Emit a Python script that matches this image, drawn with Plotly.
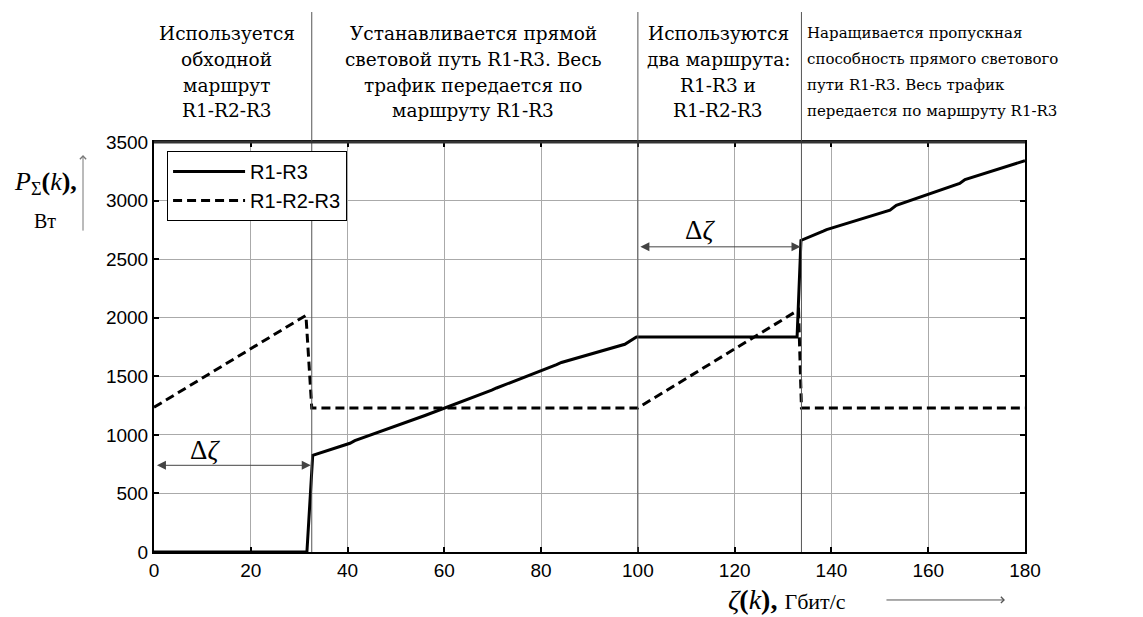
import plotly.graph_objects as go

# ---- data ----
direct_x = [0, 31.6, 32.8, 40.5, 41.5, 55, 56, 69.8, 70.8, 83.2, 84.2, 97.3, 99.7,
            132.9, 133.7, 138.3, 139, 152.1, 153.4, 166.5, 167.6, 180]
direct_y = [0, 0, 826, 928, 950, 1150, 1165, 1381, 1400, 1600, 1618, 1773, 1836,
            1836, 2660, 2739, 2752, 2918, 2960, 3146, 3180, 3340]
bypass_x = [0, 31.4, 32.6, 100, 133.2, 133.8, 180]
bypass_y = [1235, 2020, 1230, 1230, 2066, 1230, 1230]
series_names = ["R1-R3", "R1-R2-R3"]
x_ticks = [0, 20, 40, 60, 80, 100, 120, 140, 160, 180]
y_ticks = [0, 500, 1000, 1500, 2000, 2500, 3000, 3500]
phase_bounds = [0, 32.6, 100, 133.8, 180]
phase_lines = [
    ["Используется", "обходной", "маршрут", "R1-R2-R3"],
    ["Устанавливается прямой", "световой путь R1-R3. Весь", "трафик передается по", "маршруту R1-R3"],
    ["Используются", "два маршрута:", "R1-R3 и", "R1-R2-R3"],
    ["Наращивается пропускная", "способность прямого светового", "пути R1-R3. Весь трафик",
     "передается по маршруту R1-R3"],
]

SERIF = "Liberation Serif, Times New Roman, serif"
BLOCK_SERIF = "DejaVu Serif"
SANS = "Liberation Sans, Arial"

fig = go.Figure()
fig.add_trace(go.Scatter(x=direct_x, y=direct_y, mode="lines", name=series_names[0],
                         line=dict(color="black", width=3)))
fig.add_trace(go.Scatter(x=bypass_x, y=bypass_y, mode="lines", name=series_names[1],
                         line=dict(color="black", width=3, dash="9px,5px")))

shapes = []
for xb in phase_bounds[1:4]:
    shapes.append(dict(type="line", xref="x", yref="paper", x0=xb, x1=xb, y0=0, y1=1.317,
                       line=dict(color="#555555", width=1)))
# thick top border
shapes.append(dict(type="line", xref="paper", yref="paper", x0=0, x1=1, y0=1, y1=1,
                   line=dict(color="#333333", width=3)))

ann = []
# phase texts, one annotation per line (page y centres 33, 59, 85, 111 px)
line_y = [(552 - py) / 410 for py in (33, 59, 85, 111)]
block_x = [15.0, 66.0, 116.6, 134.5]
block_size = [18.5, 18.5, 18.5, 15]
for bi, lines in enumerate(phase_lines):
    for li, txt in enumerate(lines):
        ann.append(dict(text=txt, x=block_x[bi], y=line_y[li], xref="x", yref="paper",
                        showarrow=False,
                        xanchor="left" if bi == 3 else "center", yanchor="middle",
                        font=dict(family=BLOCK_SERIF, size=block_size[bi], color="black")))

# phase arrows
arrow_spans = [(0.1, 32.3), (32.9, 99.6), (100.4, 133.5), (134.2, 178)]
for a, b in arrow_spans:
    ann.append(dict(x=b, y=3626, ax=a, ay=3626, xref="x", yref="y", axref="x", ayref="y",
                    text="", showarrow=True, arrowhead=2, arrowside="end+start",
                    arrowsize=1.8, arrowwidth=1, arrowcolor="#444444"))

# delta zeta arrows and labels
for (a, b, yy) in [(0.3, 32.4, 740), (100.2, 133.6, 2605)]:
    ann.append(dict(x=b, y=yy, ax=a, ay=yy, xref="x", yref="y", axref="x", ayref="y",
                    text="", showarrow=True, arrowhead=2, arrowside="end+start",
                    arrowsize=1.8, arrowwidth=1, arrowcolor="#444444"))
for (xx, yy) in [(10.5, 868), (112.8, 2746)]:
    ann.append(dict(text="Δ<i>ζ</i>", x=xx, y=yy, xref="x", yref="y", showarrow=False,
                    xanchor="center", yanchor="middle",
                    font=dict(family=SERIF, size=27, color="black")))

# axis titles
ann.append(dict(text="<i>P</i><sub>Σ</sub><b>(</b><i>k</i><b>),</b>", x=-0.125, y=0.9,
                xref="paper", yref="paper", showarrow=False, xanchor="center", yanchor="middle",
                font=dict(family=SERIF, size=26, color="black")))
ann.append(dict(text="Вт", x=-0.125, y=0.807, xref="paper", yref="paper", showarrow=False,
                xanchor="center", yanchor="middle",
                font=dict(family=SERIF, size=20, color="black")))
ann.append(dict(x=-0.0815, y=0.968, ax=0, ay=77, xref="paper", yref="paper",
                text="", showarrow=True, arrowhead=4, arrowsize=1.2, arrowwidth=1,
                arrowcolor="#777777"))
ann.append(dict(text="<i>ζ</i><b>(</b><i>k</i><b>),</b> <span style='font-size:22px'>Гбит/с</span>",
                x=0.727, y=-0.117, xref="paper", yref="paper", showarrow=False,
                xanchor="center", yanchor="middle",
                font=dict(family=SERIF, size=28, color="black")))
ann.append(dict(x=0.977, y=-0.117, ax=-120, ay=0, xref="paper", yref="paper",
                text="", showarrow=True, arrowhead=4, arrowsize=1.2, arrowwidth=1,
                arrowcolor="#555555"))

fig.update_layout(
    width=1135, height=609,
    margin=dict(l=146, r=118, t=134, b=65),
    paper_bgcolor="white", plot_bgcolor="white",
    shapes=shapes, annotations=ann,
    showlegend=True,
    legend=dict(x=0.015, y=0.978, xanchor="left", yanchor="top",
                bgcolor="white", bordercolor="black", borderwidth=1,
                font=dict(family=SANS, size=20, color="black"),
                itemwidth=72, tracegroupgap=0),
    font=dict(family=SANS, size=19, color="black"),
)
fig.update_xaxes(range=[0, 180], tickvals=x_ticks, ticks="inside", ticklen=5, tickwidth=2,
                 tickcolor="black", showline=True, linecolor="black", linewidth=2,
                 mirror="allticks", showgrid=True, gridcolor="#aaaaaa", gridwidth=1,
                 zeroline=False, tickfont=dict(family=SANS, size=19, color="black"))
fig.update_yaxes(range=[0, 3500], tickvals=y_ticks, ticks="inside", ticklen=5, tickwidth=2,
                 tickcolor="black", showline=True, linecolor="black", linewidth=2,
                 mirror="allticks", showgrid=True, gridcolor="#aaaaaa", gridwidth=1,
                 zeroline=False, tickfont=dict(family=SANS, size=19, color="black"))

fig.write_html("out.html")
